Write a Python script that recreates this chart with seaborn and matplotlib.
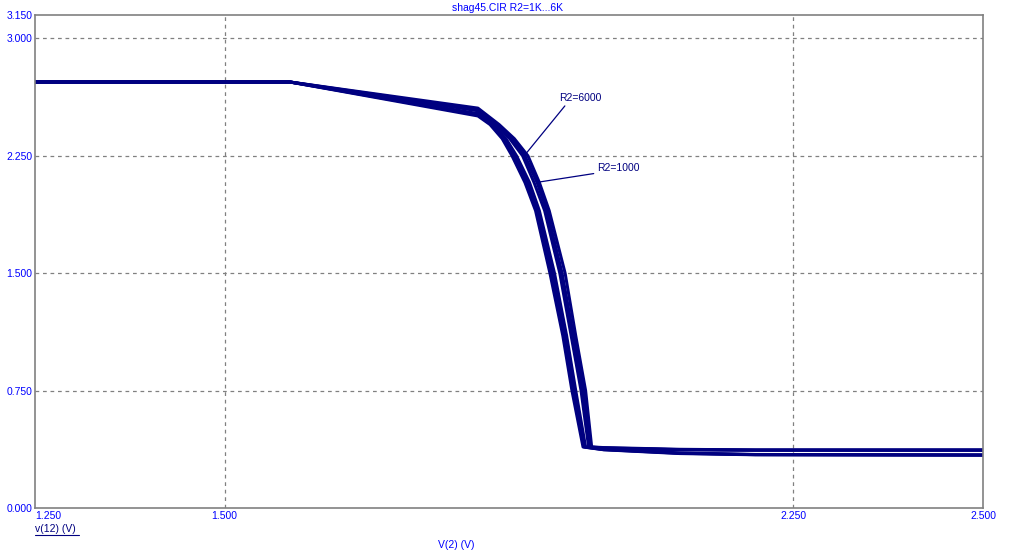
import matplotlib
matplotlib.use('Agg')
import matplotlib.pyplot as plt
import seaborn as sns
from matplotlib.lines import Line2D

# ---- data (V(2) sweep, v(12) response) ----
r2_values = [6000, 5000, 4000, 3000, 2000, 1000]

x_6000 = [1.25, 1.586, 1.834, 1.850, 1.866, 1.879, 1.896, 1.910, 1.929, 1.946, 1.958, 1.9726, 2.00, 2.10, 2.20, 2.50]
y_6000 = [2.722, 2.722, 2.505, 2.45, 2.36, 2.25, 2.08, 1.90, 1.50, 1.10, 0.75, 0.39, 0.372, 0.348, 0.340, 0.338]

x_5000 = [1.25, 1.586, 1.834, 1.852, 1.868, 1.882, 1.899, 1.913, 1.932, 1.949, 1.961, 1.974, 2.00, 2.10, 2.20, 2.50]
y_5000 = [2.722, 2.722, 2.513, 2.45, 2.36, 2.25, 2.08, 1.90, 1.50, 1.10, 0.75, 0.39, 0.373, 0.350, 0.341, 0.338]

x_4000 = [1.25, 1.586, 1.834, 1.854, 1.871, 1.885, 1.902, 1.915, 1.935, 1.951, 1.963, 1.976, 2.00, 2.10, 2.20, 2.50]
y_4000 = [2.722, 2.722, 2.520, 2.45, 2.36, 2.25, 2.08, 1.90, 1.50, 1.10, 0.75, 0.39, 0.375, 0.352, 0.342, 0.339]

x_3000 = [1.25, 1.586, 1.834, 1.858, 1.876, 1.893, 1.908, 1.922, 1.942, 1.957, 1.970, 1.980, 2.00, 2.10, 2.20, 2.50]
y_3000 = [2.722, 2.722, 2.538, 2.45, 2.36, 2.25, 2.08, 1.90, 1.50, 1.10, 0.75, 0.39, 0.382, 0.372, 0.369, 0.369]

x_2000 = [1.25, 1.586, 1.834, 1.860, 1.879, 1.896, 1.912, 1.925, 1.945, 1.960, 1.973, 1.982, 2.00, 2.10, 2.20, 2.50]
y_2000 = [2.722, 2.722, 2.546, 2.45, 2.36, 2.25, 2.08, 1.90, 1.50, 1.10, 0.75, 0.39, 0.384, 0.373, 0.370, 0.370]

x_1000 = [1.25, 1.586, 1.834, 1.862, 1.882, 1.900, 1.915, 1.928, 1.949, 1.963, 1.976, 1.984, 2.00, 2.10, 2.20, 2.50]
y_1000 = [2.722, 2.722, 2.555, 2.45, 2.36, 2.25, 2.08, 1.90, 1.50, 1.10, 0.75, 0.39, 0.386, 0.375, 0.371, 0.371]

curves = [(x_6000, y_6000), (x_5000, y_5000), (x_4000, y_4000),
          (x_3000, y_3000), (x_2000, y_2000), (x_1000, y_1000)]

x_ticks = [1.25, 1.5, 2.25, 2.5]
x_tick_labels = ['1.250', '1.500', '2.250', '2.500']
y_ticks = [0.0, 0.75, 1.5, 2.25, 3.0, 3.15]
y_tick_labels = ['0.000', '0.750', '1.500', '2.250', '3.000', '3.150']

navy = '#000080'
blue = '#0000FF'
gray = '#808080'

sns.set_style('white')
plt.rcParams['font.family'] = ['Liberation Sans', 'DejaVu Sans']

fig = plt.figure(figsize=(10.11, 5.56), dpi=100)
ax = fig.add_axes([35 / 1011, 48 / 556, 948 / 1011, 493 / 556])

for xs, ys in curves:
    sns.lineplot(x=xs, y=ys, ax=ax, color=navy, linewidth=2.2,
                 sort=False, estimator=None)

ax.set_xlim(1.25, 2.5)
ax.set_ylim(0, 3.15)

ax.set_xticks(x_ticks)
ax.set_xticklabels(x_tick_labels, fontsize=7.5, color=blue)
ax.set_yticks(y_ticks)
ax.set_yticklabels(y_tick_labels, fontsize=7.5, color=blue)
ax.get_xticklabels()[0].set_horizontalalignment('left')
ax.tick_params(length=0, pad=2)

# grid: only inner ticks
for xv in [1.5, 2.25]:
    ax.axvline(xv, color=gray, lw=0.9, ls=(0, (3, 3)), zorder=0)
for yv in [0.75, 1.5, 2.25, 3.0]:
    ax.axhline(yv, color=gray, lw=0.9, ls=(0, (3, 3)), zorder=0)

for s in ax.spines.values():
    s.set_color(gray)
    s.set_linewidth(1.2)

# curve labels with leader lines
ax.annotate('R2=6000', xy=(1.896, 2.256), xytext=(1.941, 2.59),
            fontsize=7.5, color=navy, ha='left', va='bottom',
            arrowprops=dict(arrowstyle='-', color=navy, lw=0.9,
                            shrinkA=0, shrinkB=0, relpos=(0.2, 0)))
ax.annotate('R2=1000', xy=(1.915, 2.083), xytext=(1.991, 2.14),
            fontsize=7.5, color=navy, ha='left', va='bottom',
            arrowprops=dict(arrowstyle='-', color=navy, lw=0.9,
                            shrinkA=0, shrinkB=0, relpos=(0, 0)))

ax.set_xlabel('')
ax.set_ylabel('')

fig.text(507 / 1011, 1 - 8 / 556, 'shag45.CIR R2=1K...6K', fontsize=7.5,
         color=blue, ha='center', va='center')
fig.text(456 / 1011, 1 - 545 / 556, 'V(2) (V)', fontsize=7.5,
         color=blue, ha='center', va='center')
fig.text(35 / 1011, 1 - 529 / 556, 'v(12) (V)', fontsize=7.5,
         color=navy, ha='left', va='center')
fig.add_artist(Line2D([35 / 1011, 79 / 1011], [1 - 535 / 556, 1 - 535 / 556],
                      color=navy, lw=0.8))

fig.savefig('out.png', dpi=100)
